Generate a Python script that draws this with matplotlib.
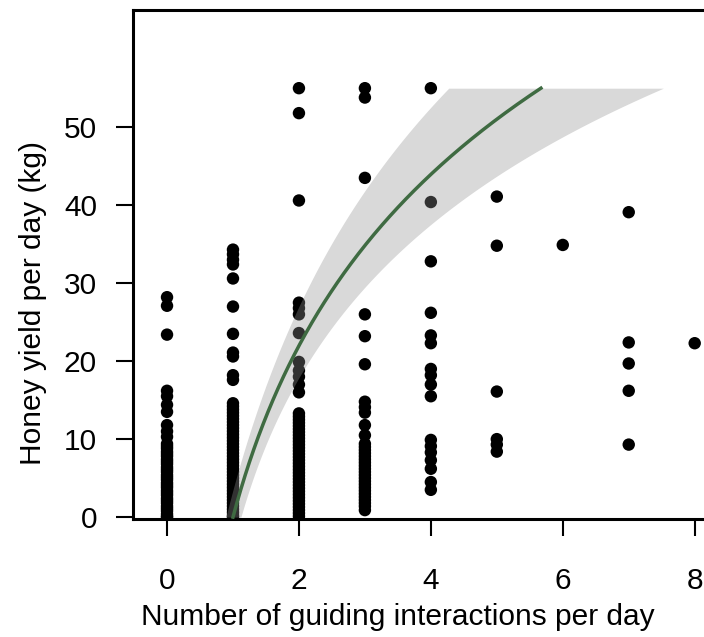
import numpy as np
import matplotlib.pyplot as plt

plt.rcParams['font.family'] = ['Liberation Sans', 'DejaVu Sans']

# honey yield (kg/day) per honey-hunting trip, grouped by guiding interactions per day
yield_0 = [28.2, 27.1, 23.4, 16.2, 15.5, 14.4, 13.5, 11.8, 11.0, 10.3,
           9.4, 9.1, 8.8, 8.4, 8.1, 7.8, 7.4, 7.1, 6.8, 6.4, 6.1, 5.8, 5.4,
           5.1, 4.8, 4.4, 4.1, 3.8, 3.4, 3.1, 2.8, 2.4, 2.1, 1.8, 1.4, 1.1,
           0.8, 0.4, 0.1, 0.0]
yield_1 = [34.3, 33.7, 33.0, 32.4, 30.6, 27.0, 23.5, 21.1, 20.6, 18.2, 17.6,
           14.6, 14.2, 13.8, 13.4, 13.0, 12.6, 12.2, 11.8, 11.4, 11.0, 10.6,
           10.2, 9.8, 9.4, 9.0, 8.6, 8.2, 7.8, 7.4, 7.0, 6.6, 6.2, 5.8, 5.4,
           5.0, 4.6, 4.2, 3.8, 3.4, 3.0, 2.6, 2.2, 1.8, 1.4, 1.0, 0.6, 0.2, 0.0]
yield_2 = [55.0, 51.8, 40.6, 27.5, 26.8, 26.0, 23.6, 19.9, 18.8, 18.0, 17.0,
           16.0, 13.3, 12.9, 12.5, 12.1, 11.7, 11.3, 10.9, 10.5, 10.1, 9.7,
           9.3, 8.9, 8.5, 8.1, 7.7, 7.3, 6.9, 6.5, 6.1, 5.7, 5.3, 4.9, 4.5,
           4.1, 3.7, 3.3, 2.9, 2.5, 2.1, 1.7, 1.3, 0.9, 0.5, 0.1]
yield_3 = [55.0, 53.8, 43.5, 26.0, 23.2, 19.6, 14.8, 14.1, 13.4, 11.8, 10.5,
           9.4, 9.0, 8.6, 8.2, 7.8, 7.4, 7.0, 6.6, 6.2, 5.8, 5.4, 5.0, 4.6,
           4.2, 3.8, 3.4, 3.0, 2.6, 2.2, 1.8, 1.4, 0.9]
yield_4 = [55.0, 40.4, 32.8, 26.2, 23.3, 22.3, 19.0, 18.2, 17.0, 15.5, 9.9,
           9.1, 8.3, 7.3, 6.2, 4.5, 3.5]
yield_5 = [41.1, 34.8, 16.1, 10.0, 9.3, 8.4]
yield_6 = [34.9]
yield_7 = [39.1, 22.4, 19.7, 16.2, 9.3]
yield_8 = [22.3]

groups = [yield_0, yield_1, yield_2, yield_3, yield_4,
          yield_5, yield_6, yield_7, yield_8]
interactions = np.concatenate([np.full(len(g), i) for i, g in enumerate(groups)])
honey = np.concatenate(groups)

# fitted model: ln(interactions) = yield / fit_scale,
# 95% band half-width on the log scale: sqrt(se0^2 + (se1 * (yield - yield_mid))^2)
fit_scale = 31.7
se0, se1, yield_mid = 0.11, 0.00522, 5.0
y_max = 55.0

fig = plt.figure(figsize=(7.04, 6.37), dpi=100)
ax = fig.add_axes([0.189, 0.185, 0.8465, 0.799])

ax.scatter(interactions, honey, s=80, color='black', edgecolors='none', zorder=2)

yy = np.linspace(0, y_max, 400)
centre = yy / fit_scale
half = np.sqrt(se0 ** 2 + (se1 * (yy - yield_mid)) ** 2)
ax.fill_betweenx(yy, np.exp(centre - half), np.exp(centre + half),
                 color='#929292', alpha=0.35, linewidth=0, zorder=3)
ax.plot(np.exp(centre), yy, color='#3f6b42', lw=2.5, zorder=4)

ax.set_xlim(-0.515, 8.52)
ax.set_ylim(-0.26, 65)
ax.set_xticks([0, 2, 4, 6, 8])
ax.set_yticks([0, 10, 20, 30, 40, 50])
for side in ['left', 'bottom', 'top', 'right']:
    ax.spines[side].set_linewidth(2.2)
ax.tick_params(direction='out', length=12.5, width=1.5, labelsize=21.5)
ax.tick_params(axis='x', pad=22)
ax.tick_params(axis='y', pad=13.5)

ax.set_xlabel('Number of guiding interactions per day', fontsize=21.5,
              labelpad=6, x=0.444)
ax.set_ylabel('Honey yield per day (kg)', fontsize=21.5, labelpad=12, y=0.424)

fig.savefig('out.png', dpi=100)
